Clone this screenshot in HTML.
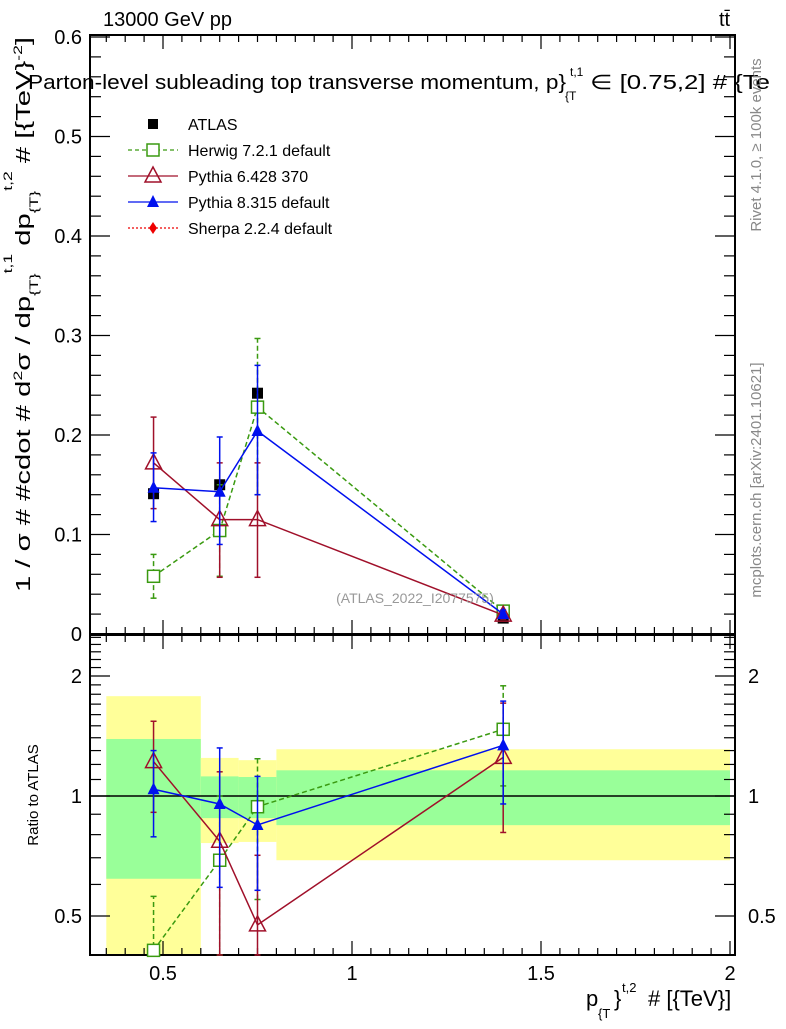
<!DOCTYPE html>
<html><head><meta charset="utf-8"><style>
body{margin:0;background:#fff}
svg text{font-family:"Liberation Sans",sans-serif}
</style></head><body>
<svg id="c" width="786" height="1024" xmlns="http://www.w3.org/2000/svg"></svg>
<script>
const xs=[0.475,0.65,0.75,1.4];
const atlas=[0.141,0.150,0.242,0.016];
const herwig=[0.058,0.104,0.228,0.023];
const herwigLo=[0.036,0.058,0.14,0.019];
const herwigHi=[0.080,0.15,0.297,0.027];
const py6=[0.172,0.115,0.115,0.019];
const py6Lo=[0.126,0.057,0.057,0.015];
const py6Hi=[0.218,0.172,0.172,0.023];
const py8=[0.147,0.143,0.204,0.020];
const py8Lo=[0.113,0.09,0.14,0.016];
const py8Hi=[0.182,0.198,0.27,0.024];
const binLo=[0.35,0.6,0.7,0.8];
const binHi=[0.6,0.7,0.8,2.0];
const yelLo=[0.35,0.762,0.767,0.69];
const yelHi=[1.78,1.246,1.23,1.31];
const grnLo=[0.62,0.88,0.88,0.845];
const grnHi=[1.39,1.12,1.116,1.16];
const rHerwig=[0.41,0.69,0.94,1.47];
const rHerwigLo=[0.3,0.3,0.55,1.06];
const rHerwigHi=[0.56,1.0,1.24,1.89];
const rPy6=[1.22,0.77,0.475,1.25];
const rPy6Lo=[0.91,0.3,0.3,0.81];
const rPy6Hi=[1.54,1.15,0.71,1.71];
const rPy8=[1.04,0.955,0.846,1.34];
const rPy8Lo=[0.79,0.59,0.58,0.955];
const rPy8Hi=[1.3,1.32,1.12,1.73];
const mainTicks=[0,0.1,0.2,0.3,0.4,0.5,0.6];
const ratioTicks=[0.5,1,2];
const xTicks=[0.5,1,1.5,2];

const S=document.getElementById('c');const NS='http://www.w3.org/2000/svg';
function el(t,a,txt,p){const e=document.createElementNS(NS,t);for(const k in a)e.setAttribute(k,a[k]);if(txt!==undefined)e.textContent=txt;(p||S).appendChild(e);return e;}
const L=90,R=735,MT=35,MB=634,RT=635,RB=955;
const X=v=>-26+378*v;
const Y=v=>634-995*v;
const YR=v=>796-120*Math.log2(v);
const clipR=v=>Math.max(RT,Math.min(RB,YR(v)));

for(let i=0;i<binLo.length;i++){
 let b=el('rect',{x:X(binLo[i]),y:clipR(yelHi[i]),width:X(binHi[i])-X(binLo[i]),height:clipR(yelLo[i])-clipR(yelHi[i]),fill:'#ffff99'});
 
 let g=el('rect',{x:X(binLo[i]),y:clipR(grnHi[i]),width:X(binHi[i])-X(binLo[i]),height:clipR(grnLo[i])-clipR(grnHi[i]),fill:'#99ff99'});
 
}
el('line',{x1:L,x2:R,y1:YR(1),y2:YR(1),stroke:'#000','stroke-width':1.5});

for(const [t,b] of [[MT,MB],[RT,RB]]){
 const f=el('rect',{x:L,y:t,width:R-L,height:b-t,fill:'none',stroke:'#000','stroke-width':2});
 
}
for(let v=0.35;v<=2.01;v+=0.05){
 const big=Math.abs(v*2-Math.round(v*2))<1e-6;const len=big?14:7;
 for(const [t,b] of [[MT,MB],[RT,RB]]){
  el('line',{x1:X(v),x2:X(v),y1:t,y2:t+len,stroke:'#000','stroke-width':1.2});
  el('line',{x1:X(v),x2:X(v),y1:b,y2:b-len,stroke:'#000','stroke-width':1.2});
 }
}
xTicks.forEach(v=>{const t=el('text',{x:X(v),y:980,'font-size':20,'text-anchor':'middle'},String(v));});
for(let v=0;v<=0.6001;v+=0.02){
 const big=Math.abs(v*10-Math.round(v*10))<1e-6;const len=big?20:11;
 el('line',{x1:L,x2:L+len,y1:Y(v),y2:Y(v),stroke:'#000','stroke-width':1.2});
 el('line',{x1:R,x2:R-len,y1:Y(v),y2:Y(v),stroke:'#000','stroke-width':1.2});
}
mainTicks.forEach(v=>{const t=el('text',{x:82,y:Y(v)+7,'font-size':20,'text-anchor':'end'},v===0?'0':v.toFixed(1));});
[0.4,0.5,0.6,0.7,0.8,0.9,1,1.1,1.2,1.3,1.4,1.5,1.6,1.7,1.8,1.9,2,2.1,2.2,2.3,2.4,2.5].forEach(v=>{
 const y=YR(v);if(y<RT||y>RB)return;const big=ratioTicks.includes(v);const len=big?20:11;
 el('line',{x1:L,x2:L+len,y1:y,y2:y,stroke:'#000','stroke-width':1.2});
 el('line',{x1:R,x2:R-len,y1:y,y2:y,stroke:'#000','stroke-width':1.2});
});
ratioTicks.forEach(v=>{
 const a=el('text',{x:82,y:YR(v)+7,'font-size':20,'text-anchor':'end'},String(v));
 const b=el('text',{x:748,y:YR(v)+7,'font-size':20},String(v));
});

function series(vals,lo,hi,yf,color,dash,marker,name){
 const g=el('g',{});
 const clip=v=>yf===Y?yf(v):clipR(v);
 el('polyline',{points:xs.map((x,i)=>X(x)+','+clip(vals[i])).join(' '),fill:'none',stroke:color,'stroke-width':1.5,'stroke-dasharray':dash||''},undefined,g);
 xs.forEach((x,i)=>{
  const y1=clip(lo[i]),y2=clip(hi[i]);
  el('line',{x1:X(x),x2:X(x),y1:y1,y2:y2,stroke:color,'stroke-width':1.5,'stroke-dasharray':dash||''},undefined,g);
  el('line',{x1:X(x)-3,x2:X(x)+3,y1:y1,y2:y1,stroke:color,'stroke-width':1.5},undefined,g);
  el('line',{x1:X(x)-3,x2:X(x)+3,y1:y2,y2:y2,stroke:color,'stroke-width':1.5},undefined,g);
  marker(X(x),clip(vals[i]),color,g);
 });
}
const sqOpen=(x,y,c,g)=>el('rect',{x:x-6,y:y-6,width:12,height:12,fill:'#fff',stroke:c,'stroke-width':1.5},undefined,g);
const triOpen=(x,y,c,g)=>el('polygon',{points:`${x},${y-9} ${x-8},${y+6} ${x+8},${y+6}`,fill:'none',stroke:c,'stroke-width':1.5},undefined,g);
const triFill=(x,y,c,g)=>el('polygon',{points:`${x},${y-7} ${x-6},${y+5} ${x+6},${y+5}`,fill:c},undefined,g);

xs.forEach((x,i)=>{const r=el('rect',{x:X(x)-5.5,y:Y(atlas[i])-5.5,width:11,height:11,fill:'#000'});});
series(herwig,herwigLo,herwigHi,Y,'#3a9a10','5,3',sqOpen,'herwig-series');
series(py6,py6Lo,py6Hi,Y,'#a0102a','',triOpen,'pythia6-series');
series(py8,py8Lo,py8Hi,Y,'#0010ee','',triFill,'pythia8-series');
series(rHerwig,rHerwigLo,rHerwigHi,YR,'#3a9a10','5,3',sqOpen,'ratio-herwig-series');
series(rPy6,rPy6Lo,rPy6Hi,YR,'#a0102a','',triOpen,'ratio-pythia6-series');
series(rPy8,rPy8Lo,rPy8Hi,YR,'#0010ee','',triFill,'ratio-pythia8-series');

const lg=el('g',{});
const ent=[['ATLAS','#000','',(x,y,c,g)=>el('rect',{x:x-5,y:y-5,width:10,height:10,fill:'#000'},undefined,g),false],
['Herwig 7.2.1 default','#3a9a10','4,3',sqOpen,true],['Pythia 6.428 370','#a0102a','',triOpen,true],
['Pythia 8.315 default','#0010ee','',triFill,true],['Sherpa 2.2.4 default','#ee0000','2,2',(x,y,c,g)=>el('polygon',{points:`${x},${y-6} ${x-4},${y} ${x},${y+6} ${x+4},${y}`,fill:c},undefined,g),true]];
ent.forEach((e,i)=>{const y=124+26*i;
 if(e[4])el('line',{x1:128,x2:178,y1:y,y2:y,stroke:e[1],'stroke-width':1.3,'stroke-dasharray':e[2]},undefined,lg);
 e[3](153,y,e[1],lg);
 el('text',{x:188,y:y+6,'font-size':16},e[0],lg);
});

function T(txt,a,name){const t=el('text',a,txt);return t;}
T('13000 GeV pp',{x:103,y:26,'font-size':20},'header-energy');
T('tt̄',{x:719,y:26,'font-size':20},'header-process');
T('Parton-level subleading top transverse momentum, p}',{x:28,y:89,'font-size':20,textLength:538,lengthAdjust:'spacingAndGlyphs'},'plot-title');
T('t,1',{x:570,y:76,'font-size':12},'title-sup');
T('{T',{x:565,y:100,'font-size':12},'title-sub');
T('∈ [0.75,2] # {Te',{x:590,y:89,'font-size':20,textLength:180,lengthAdjust:'spacingAndGlyphs'},'title-range');
T('(ATLAS_2022_I2077575)',{x:415,y:603,'font-size':14,fill:'#999','text-anchor':'middle'},'analysis-id');

const yt=el('text',{x:0,y:0,'font-size':20,transform:'translate(30,592) rotate(-90)',textLength:555,lengthAdjust:'spacingAndGlyphs'});


[['1 / σ # #cdot # d',0,20],['2',-8,12],['σ / dp',0,20],['{T}',8,12],['t,1',-18,12],[' dp',0,20],['{T}',8,12],['t,2',-18,12],[' # [{TeV}',0,20],['-2',-8,12],[']',0,20]].forEach(p=>{
 el('tspan',{dy:0,'font-size':p[2],'baseline-shift':-p[1]},p[0],yt);
});
T('Ratio to ATLAS',{x:0,y:0,'font-size':15,transform:'translate(38,795) rotate(-90)','text-anchor':'middle'},'ratio-axis-title');
T('Rivet 4.1.0, ≥ 100k events',{x:0,y:0,'font-size':15,fill:'#888',transform:'translate(761,145) rotate(-90)','text-anchor':'middle'},'rivet-label');
T('mcplots.cern.ch [arXiv:2401.10621]',{x:0,y:0,'font-size':15,fill:'#888',transform:'translate(761,480) rotate(-90)','text-anchor':'middle'},'mcplots-label');
T('p',{x:586,y:1006,'font-size':22},'x-axis-title');
T('{T',{x:598,y:1018,'font-size':13},'x-title-sub');
T('}',{x:614,y:1006,'font-size':22},'x-title-brace');
T('t,2',{x:622,y:992,'font-size':13},'x-title-sup');
T('# [{TeV}]',{x:648,y:1006,'font-size':22},'x-title-unit');
</script>
</body></html>
